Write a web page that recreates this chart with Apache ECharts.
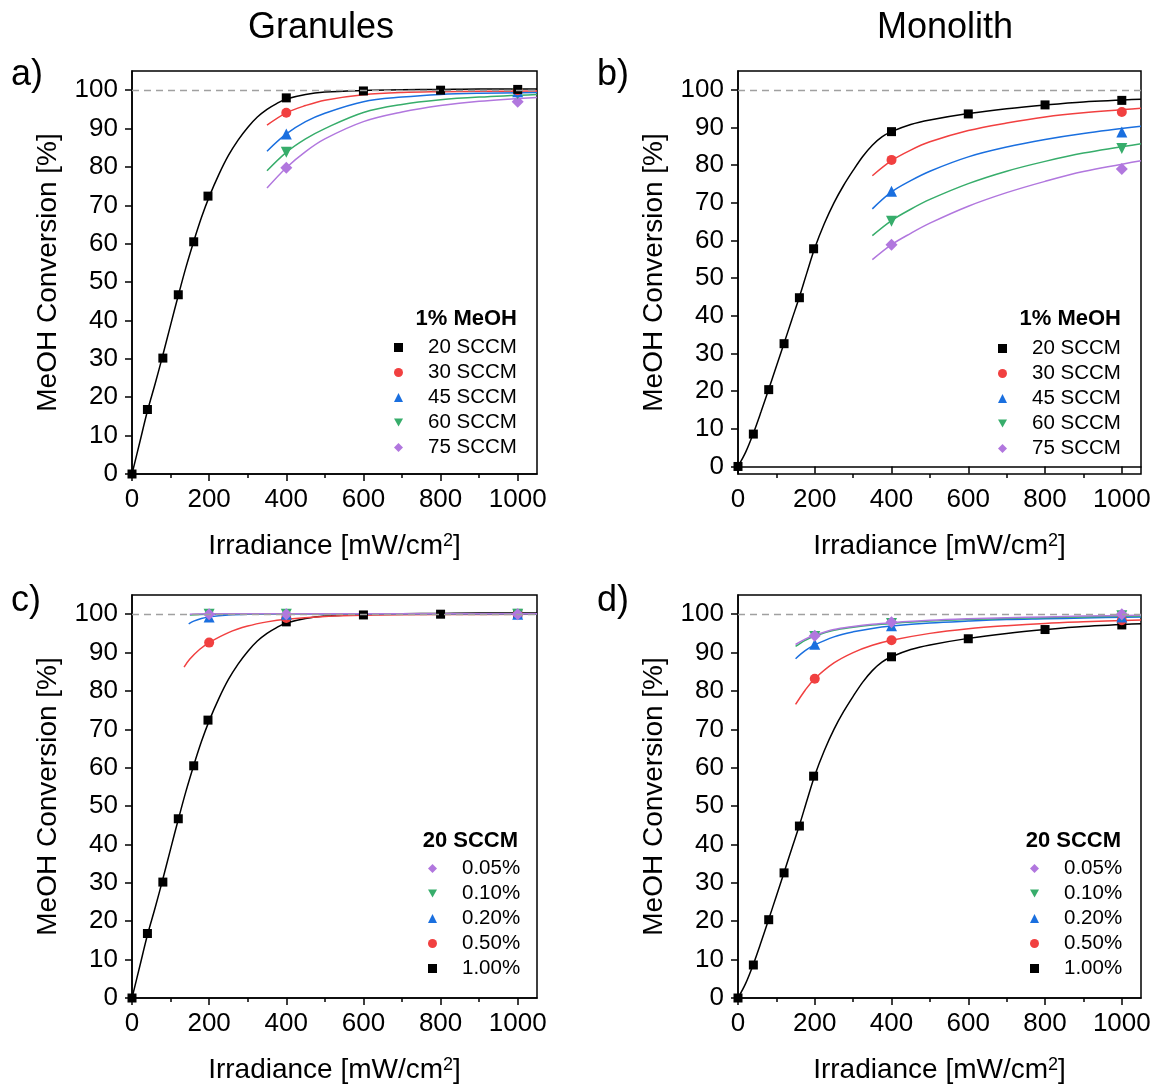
<!DOCTYPE html>
<html>
<head>
<meta charset="utf-8">
<title>MeOH conversion vs irradiance</title>
<script src="https://cdn.jsdelivr.net/npm/echarts@6/dist/echarts.min.js"></script>
<style>
  html, body { margin: 0; padding: 0; background: #fff; }
  #chart { width: 1155px; height: 1088px; }
</style>
</head>
<body>
<div id="chart"></div>
<script>
  // ---- ticks ----
  const xTicks = [0, 200, 400, 600, 800, 1000];
  const xMinorTicks = [100, 300, 500, 700, 900];
  const yTicks = [0, 10, 20, 30, 40, 50, 60, 70, 80, 90, 100];
  const fullConversion = 100;   // dashed reference line

  // ---- measured points: 1% MeOH, 20 SCCM (used in a/c and b/d) ----
  const irr20 = [0, 40, 80, 120, 160, 197, 400, 600, 800, 1000];
  const gran20 = [0, 16.8, 30.2, 46.7, 60.5, 72.4, 98.0, 99.8, 100.0, 100.2];
  const mono20 = [0, 8.6, 20.4, 32.6, 44.8, 57.8, 88.9, 93.6, 96.0, 97.2];

  // ---- measured points: other flows (a, b) ----
  const flowIrr = [400, 1000];
  const gran30 = [94.1, 100.0];
  const gran45 = [88.6, 99.6];
  const gran60 = [83.8, 99.1];
  const gran75 = [79.8, 97.0];
  const mono30 = [81.4, 94.1];
  const mono45 = [73.1, 88.8];
  const mono60 = [65.1, 84.4];
  const mono75 = [58.9, 79.0];

  // ---- measured points: lower concentrations at 20 SCCM (c, d) ----
  const concIrr = [200, 400, 1000];
  const granC050 = [92.6, 99.0, 100.0];
  const granC020 = [99.3, 100.0, 100.0];
  const granC010 = [100.0, 100.0, 100.0];
  const granC005 = [100.0, 100.0, 100.0];
  const monoC050 = [83.2, 93.2, 98.4];
  const monoC020 = [92.2, 97.0, 99.3];
  const monoC010 = [94.2, 97.6, 99.6];
  const monoC005 = [94.4, 97.9, 100.0];

  // ---- fitted curves ----
  const fit20X = [0, 20, 40, 60, 80, 100, 120, 140, 160, 180, 200, 225, 250, 275, 300, 325, 350, 375, 400, 450, 500, 600, 700, 800, 900, 1050];
  const gran20Fit = [0, 8.2, 16.4, 23.5, 31.0, 38.8, 46.5, 53.9, 60.6, 66.8, 72.2, 78.0, 83.0, 87.0, 90.3, 93.0, 95.0, 96.5, 97.7, 98.9, 99.5, 99.9, 100.1, 100.2, 100.3, 100.3];
  const mono20Fit = [0, 3.8, 8.8, 14.5, 20.5, 26.6, 32.7, 38.9, 45.0, 51.6, 58.0, 64.5, 70.0, 74.6, 78.6, 82.3, 85.3, 87.5, 88.9, 90.8, 92.0, 93.7, 95.0, 96.0, 96.8, 97.5];

  const flowFitX = [350, 400, 450, 500, 600, 700, 800, 900, 1050];
  const gran30Fit = [90.9, 94.1, 96.0, 97.4, 98.8, 99.4, 99.6, 99.7, 99.8];
  const gran45Fit = [84.1, 88.6, 91.8, 94.0, 97.0, 98.2, 98.9, 99.2, 99.4];
  const gran60Fit = [79.0, 83.8, 87.3, 90.0, 94.2, 96.3, 97.5, 98.2, 98.9];
  const gran75Fit = [74.5, 79.8, 84.0, 87.3, 91.8, 94.3, 96.0, 97.1, 98.1];
  const mono30Fit = [77.2, 81.2, 84.0, 86.2, 89.2, 91.2, 92.8, 93.9, 95.1];
  const mono45Fit = [68.4, 72.9, 75.9, 78.4, 82.2, 84.8, 86.8, 88.4, 90.3];
  const mono60Fit = [61.3, 65.3, 68.3, 70.9, 75.1, 78.4, 81.0, 83.2, 85.7];
  const mono75Fit = [54.9, 58.9, 61.9, 64.6, 69.1, 72.7, 75.7, 78.3, 81.2];

  const granC050FitX = [135, 150, 175, 200, 250, 300, 350, 400, 500, 600, 800, 1050];
  const granC050Fit = [86.2, 88.3, 90.8, 92.6, 95.2, 96.9, 98.0, 98.7, 99.4, 99.7, 99.9, 100.0];
  const granC020FitX = [147, 160, 180, 200, 250, 300, 400, 1050];
  const granC020Fit = [97.5, 98.2, 98.9, 99.3, 99.8, 100.0, 100.1, 100.1];
  const granC010FitX = [150, 200, 400, 1050];
  const granC010Fit = [99.8, 100.0, 100.1, 100.1];
  const granC005Fit = [100.0, 100.1, 100.1, 100.1];

  const monoCFitX = [150, 175, 200, 250, 300, 350, 400, 500, 600, 700, 800, 900, 1050];
  const monoC050Fit = [76.5, 80.2, 83.2, 87.3, 90.0, 91.9, 93.2, 95.0, 96.2, 97.0, 97.6, 98.0, 98.5];
  const monoC020Fit = [88.4, 90.5, 92.0, 94.1, 95.4, 96.3, 96.9, 97.7, 98.2, 98.6, 98.8, 99.0, 99.3];
  const monoC010Fit = [91.6, 93.2, 94.3, 95.8, 96.6, 97.2, 97.6, 98.2, 98.6, 98.9, 99.1, 99.3, 99.5];
  const monoC005Fit = [92.1, 93.5, 94.5, 96.0, 96.8, 97.4, 97.8, 98.4, 98.8, 99.1, 99.3, 99.5, 99.7];

  const flowNames = ['20 SCCM', '30 SCCM', '45 SCCM', '60 SCCM', '75 SCCM'];
  const concNames = ['0.05%', '0.10%', '0.20%', '0.50%', '1.00%'];

  // ---- styles (Origin palette) ----
  const FONT = '"Liberation Sans", Arial, Helvetica, sans-serif';
  const STYLE = {
    black:  { color: '#000000', symbol: 'rect', size: 9 },
    red:    { color: '#F14040', symbol: 'circle', size: 10 },
    blue:   { color: '#1A6FDF', symbol: 'triangle', size: 11 },
    green:  { color: '#37AD6B', symbol: 'path://M0,0L10,0L5,9Z', size: 11 },
    purple: { color: '#B177DE', symbol: 'diamond', size: 12 }
  };

  const grids = [
    { left: 132, top: 71, width: 405, height: 403 },   // a
    { left: 738, top: 71, width: 403, height: 403 },   // b
    { left: 132, top: 595, width: 405, height: 403 },  // c
    { left: 738, top: 595, width: 403, height: 403 }   // d
  ];
  const yMins = [0, -2, 0, 0];

  const pts = (xs, ys) => xs.map((x, i) => [x, ys[i]]);

  let series = [];
  function addGroup(panel, name, style, xs, ys, fx, fy) {
    series.push({
      type: 'line', name: name + ' fit',
      xAxisIndex: panel * 2, yAxisIndex: panel,
      data: pts(fx, fy),
      smooth: 0.35,
      showSymbol: false, symbol: 'none', silent: true,
      lineStyle: { color: style.color, width: 1.5 },
      itemStyle: { color: style.color },
      z: 2
    });
    series.push({
      type: 'scatter', name: name,
      xAxisIndex: panel * 2, yAxisIndex: panel,
      data: pts(xs, ys),
      symbol: style.symbol, symbolSize: style.size,
      itemStyle: { color: style.color, opacity: 1 },
      z: 3
    });
  }

  // dashed 100 % line, one per panel
  for (let p = 0; p < 4; p++) {
    series.push({
      type: 'line', xAxisIndex: p * 2, yAxisIndex: p, data: [], silent: true,
      markLine: {
        silent: true, symbol: ['none', 'none'], label: { show: false },
        lineStyle: { color: '#a0a0a0', type: [7, 5], width: 1.3 },
        data: [{ yAxis: fullConversion }]
      }
    });
  }

  // a) granules, flow series
  addGroup(0, '75 SCCM', STYLE.purple, flowIrr, gran75, flowFitX, gran75Fit);
  addGroup(0, '60 SCCM', STYLE.green, flowIrr, gran60, flowFitX, gran60Fit);
  addGroup(0, '45 SCCM', STYLE.blue, flowIrr, gran45, flowFitX, gran45Fit);
  addGroup(0, '30 SCCM', STYLE.red, flowIrr, gran30, flowFitX, gran30Fit);
  addGroup(0, '20 SCCM', STYLE.black, irr20, gran20, fit20X, gran20Fit);
  // b) monolith, flow series
  addGroup(1, '75 SCCM', STYLE.purple, flowIrr, mono75, flowFitX, mono75Fit);
  addGroup(1, '60 SCCM', STYLE.green, flowIrr, mono60, flowFitX, mono60Fit);
  addGroup(1, '45 SCCM', STYLE.blue, flowIrr, mono45, flowFitX, mono45Fit);
  addGroup(1, '30 SCCM', STYLE.red, flowIrr, mono30, flowFitX, mono30Fit);
  addGroup(1, '20 SCCM', STYLE.black, irr20, mono20, fit20X, mono20Fit);
  // c) granules, concentration series
  addGroup(2, '1.00%', STYLE.black, irr20, gran20, fit20X, gran20Fit);
  addGroup(2, '0.50%', STYLE.red, concIrr, granC050, granC050FitX, granC050Fit);
  addGroup(2, '0.20%', STYLE.blue, concIrr, granC020, granC020FitX, granC020Fit);
  addGroup(2, '0.10%', STYLE.green, concIrr, granC010, granC010FitX, granC010Fit);
  addGroup(2, '0.05%', STYLE.purple, concIrr, granC005, granC010FitX, granC005Fit);
  // d) monolith, concentration series
  addGroup(3, '1.00%', STYLE.black, irr20, mono20, fit20X, mono20Fit);
  addGroup(3, '0.50%', STYLE.red, concIrr, monoC050, monoCFitX, monoC050Fit);
  addGroup(3, '0.20%', STYLE.blue, concIrr, monoC020, monoCFitX, monoC020Fit);
  addGroup(3, '0.10%', STYLE.green, concIrr, monoC010, monoCFitX, monoC010Fit);
  addGroup(3, '0.05%', STYLE.purple, concIrr, monoC005, monoCFitX, monoC005Fit);

  const axisLine = { show: true, lineStyle: { color: '#000', width: 1.5 } };

  let xAxis = [];
  let yAxis = [];
  grids.forEach((g, i) => {
    xAxis.push({
      gridIndex: i, type: 'value', min: 0, max: 1050, position: 'bottom',
      axisLine: axisLine,
      axisTick: { show: true, customValues: xTicks, length: 7, lineStyle: { color: '#000', width: 1.5 } },
      axisLabel: { customValues: xTicks, fontSize: 26, color: '#000', margin: 13, fontFamily: FONT,
                   formatter: v => String(v) },
      splitLine: { show: false },
      name: 'Irradiance [mW/cm{sup|2}]',
      nameLocation: 'middle', nameGap: 58,
      nameTextStyle: {
        fontSize: 28, color: '#000', fontFamily: FONT,
        rich: { sup: { fontSize: 18, verticalAlign: 'top', color: '#000', fontFamily: FONT } }
      }
    });
    // minor ticks only
    xAxis.push({
      gridIndex: i, type: 'value', min: 0, max: 1050, position: 'bottom',
      axisLine: { show: false },
      axisTick: { show: true, customValues: xMinorTicks, length: 4, lineStyle: { color: '#000', width: 1.5 } },
      axisLabel: { show: false },
      splitLine: { show: false }
    });
    yAxis.push({
      gridIndex: i, type: 'value', min: yMins[i], max: 105,
      axisLine: axisLine,
      axisTick: { show: true, customValues: yTicks, length: 7, lineStyle: { color: '#000', width: 1.5 } },
      axisLabel: { customValues: yTicks, fontSize: 26, color: '#000', margin: 14, fontFamily: FONT },
      splitLine: { show: false },
      name: 'MeOH Conversion [%]',
      nameLocation: 'middle', nameGap: 70,
      nameTextStyle: { fontSize: 28, color: '#000', fontFamily: FONT }
    });
  });

  // square icon box, text pushed right with padding
  const legendBase = {
    orient: 'vertical', itemWidth: 9, itemHeight: 9, itemGap: 4, padding: 0,
    selectedMode: false,
    textStyle: { fontSize: 20.5, color: '#000', lineHeight: 20, fontFamily: FONT, padding: [0, 0, 0, 20] }
  };

  function label(text, x, y, size, align, weight) {
    return {
      type: 'text', x: x, y: y, silent: true,
      style: {
        text: text, fontSize: size, fontFamily: FONT, fontWeight: weight || 'normal', fill: '#000',
        align: align, textAlign: align, verticalAlign: 'middle', textVerticalAlign: 'middle'
      }
    };
  }

  let options = {
    backgroundColor: '#fff',
    animation: false,
    grid: grids.map(g => Object.assign({ show: true, borderColor: '#000', borderWidth: 1.5, backgroundColor: 'transparent' }, g)),
    xAxis: xAxis,
    yAxis: yAxis,
    legend: [
      Object.assign({ data: flowNames, left: 394, top: 337 }, legendBase),
      Object.assign({ data: flowNames, left: 998, top: 338 }, legendBase),
      Object.assign({ data: concNames, left: 428, top: 858 }, legendBase),
      Object.assign({ data: concNames, left: 1030, top: 858 }, legendBase)
    ],
    graphic: [
      label('Granules', 321, 28, 36, 'center'),
      label('Monolith', 945, 28, 36, 'center'),
      label('a)', 11, 75, 36, 'left'),
      label('b)', 597, 75, 36, 'left'),
      label('c)', 11, 601, 36, 'left'),
      label('d)', 597, 601, 36, 'left'),
      label('1% MeOH', 517, 319, 22, 'right', 'bold'),
      label('1% MeOH', 1121, 319, 22, 'right', 'bold'),
      label('20 SCCM', 518, 841, 22, 'right', 'bold'),
      label('20 SCCM', 1121, 841, 22, 'right', 'bold')
    ],
    series: series
  };

  const mychart = echarts.init(document.getElementById('chart'), null, { renderer: 'canvas' });
  mychart.setOption(options);
</script>
</body>
</html>
